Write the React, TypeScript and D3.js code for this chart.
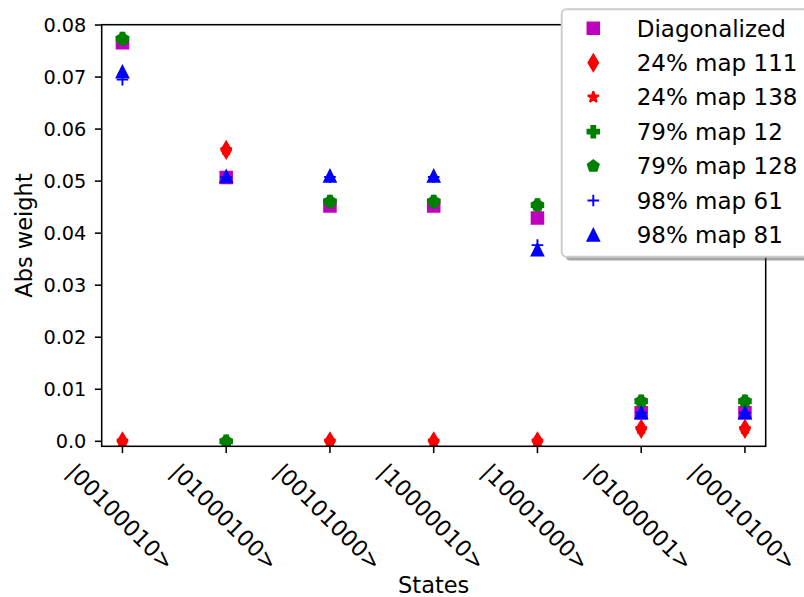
import React, { useEffect, useRef } from 'react';
import * as d3 from 'd3';

// Basis states on the x axis
const states = ['|00100010>', '|01000100>', '|00101000>', '|10000010>', '|10001000>', '|01000001>', '|00010100>'];

// Absolute weights per basis state for each series
const diagonalized = [0.0766, 0.0507, 0.0452, 0.0452, 0.0429, 0.0055, 0.0055];
const map111 = [0.0, 0.056, 0.0, 0.0, 0.0, 0.0024, 0.0024];
const map138 = [0.0, 0.056, 0.0, 0.0, 0.0, 0.0024, 0.0024];
const map12 = [0.0774, 0.0, 0.0461, 0.0461, 0.0454, 0.0077, 0.0077];
const map128 = [0.0774, 0.0, 0.0461, 0.0461, 0.0454, 0.0077, 0.0077];
const map61 = [0.0695, 0.0508, 0.0508, 0.0508, 0.0377, 0.0055, 0.0055];
const map81 = [0.071, 0.0509, 0.051, 0.051, 0.0368, 0.0055, 0.0055];

const seriesNames = ['Diagonalized', '24% map 111', '24% map 138', '79% map 12', '79% map 128', '98% map 61', '98% map 81'];

const yTicks = [0, 0.01, 0.02, 0.03, 0.04, 0.05, 0.06, 0.07, 0.08];
const yTickLabels = ['0.0', '0.01', '0.02', '0.03', '0.04', '0.05', '0.06', '0.07', '0.08'];

type MarkerKind = 'square' | 'thinDiamond' | 'star' | 'plusFilled' | 'pentagon' | 'plus' | 'triangle';

const series: { name: string; values: number[]; color: string; marker: MarkerKind }[] = [
  { name: seriesNames[0], values: diagonalized, color: '#bf00bf', marker: 'square' },
  { name: seriesNames[1], values: map111, color: '#ff0000', marker: 'thinDiamond' },
  { name: seriesNames[2], values: map138, color: '#ff0000', marker: 'star' },
  { name: seriesNames[3], values: map12, color: '#008000', marker: 'plusFilled' },
  { name: seriesNames[4], values: map128, color: '#008000', marker: 'pentagon' },
  { name: seriesNames[5], values: map61, color: '#0000ff', marker: 'plus' },
  { name: seriesNames[6], values: map81, color: '#0000ff', marker: 'triangle' },
];

const FONT = '"DejaVu Sans", sans-serif';
const MS = 11.6; // marker size in px
const MEW = 1.93; // marker edge width

function markerJoin(kind: MarkerKind): string {
  if (kind === 'star') return 'bevel';
  if (kind === 'plus') return 'round';
  return 'miter';
}

function markerPath(kind: MarkerKind, s: number): string {
  const h = s / 2;
  const poly = (pts: [number, number][]) => 'M' + pts.map((p) => `${p[0].toFixed(3)},${p[1].toFixed(3)}`).join('L') + 'Z';
  switch (kind) {
    case 'square':
      return poly([[-h, -h], [h, -h], [h, h], [-h, h]]);
    case 'thinDiamond': {
      const r = s * Math.SQRT1_2;
      return poly([[0, -r], [0.6 * r, 0], [0, r], [-0.6 * r, 0]]);
    }
    case 'star': {
      const pts: [number, number][] = [];
      for (let i = 0; i < 10; i++) {
        const r = i % 2 === 0 ? h : h * 0.381966;
        const a = -Math.PI / 2 + (i * Math.PI) / 5;
        pts.push([r * Math.cos(a), r * Math.sin(a)]);
      }
      return poly(pts);
    }
    case 'plusFilled': {
      const v: [number, number][] = [
        [-1, -3], [1, -3], [1, -1], [3, -1], [3, 1], [1, 1],
        [1, 3], [-1, 3], [-1, 1], [-3, 1], [-3, -1], [-1, -1],
      ];
      return poly(v.map((p) => [(p[0] / 6) * s, (p[1] / 6) * s] as [number, number]));
    }
    case 'pentagon': {
      const pts: [number, number][] = [];
      for (let i = 0; i < 5; i++) {
        const a = -Math.PI / 2 + (i * 2 * Math.PI) / 5;
        pts.push([h * Math.cos(a), h * Math.sin(a)]);
      }
      return poly(pts);
    }
    case 'plus':
      return `M${-h},0H${h}M0,${-h}V${h}`;
    case 'triangle':
      return poly([[0, -h], [-h, h], [h, h]]);
  }
}

export default function App() {
  const ref = useRef<SVGSVGElement>(null);

  useEffect(() => {
    const svg = d3.select(ref.current);
    svg.selectAll('*').remove();

    const left = 101.7;
    const right = 765.7;
    const top = 24.7;
    const bottom = 446.3;

    const x = d3.scaleLinear().domain([-0.2, states.length - 1 + 0.2]).range([left, right]);
    const y = d3.scaleLinear().domain([-0.00096, 0.08006]).range([bottom, top]);

    svg.append('rect').attr('width', 804).attr('height', 597).attr('fill', '#ffffff');

    svg.append('defs').append('clipPath').attr('id', 'plot-clip')
      .append('rect').attr('x', left).attr('y', top).attr('width', right - left).attr('height', bottom - top);

    // Data markers
    const plot = svg.append('g').attr('clip-path', 'url(#plot-clip)');
    series.forEach((s) => {
      const d = markerPath(s.marker, MS);
      plot.append('g').selectAll('path').data(s.values).enter().append('path')
        .attr('d', d)
        .attr('transform', (v, i) => `translate(${x(i)},${y(v)})`)
        .attr('fill', s.marker === 'plus' ? 'none' : s.color)
        .attr('stroke', s.color)
        .attr('stroke-width', MEW)
        .attr('stroke-linejoin', markerJoin(s.marker));
    });

    // Spines
    svg.append('rect').attr('x', left).attr('y', top).attr('width', right - left).attr('height', bottom - top)
      .attr('fill', 'none').attr('stroke', '#000').attr('stroke-width', 1.55);

    const tickLen = 6.8;
    const tickFs = 19.3;
    const xTickFs = 22.3;

    // Y axis ticks
    const yg = svg.append('g');
    yTicks.forEach((t, i) => {
      yg.append('line').attr('x1', left - tickLen).attr('x2', left).attr('y1', y(t)).attr('y2', y(t))
        .attr('stroke', '#000').attr('stroke-width', 1.55);
      yg.append('text').attr('x', left - tickLen - 8.5).attr('y', y(t)).attr('dy', '0.35em')
        .attr('text-anchor', 'end').attr('font-family', FONT).attr('font-size', tickFs).attr('fill', '#000')
        .text(yTickLabels[i]);
    });

    // X axis ticks with rotated labels
    const xg = svg.append('g');
    states.forEach((s, i) => {
      const cx = x(i);
      xg.append('line').attr('x1', cx).attr('x2', cx).attr('y1', bottom).attr('y2', bottom + tickLen)
        .attr('stroke', '#000').attr('stroke-width', 1.55);
      const t = xg.append('text').attr('font-family', FONT).attr('font-size', xTickFs).attr('fill', '#000')
        .attr('text-anchor', 'middle').text(s);
      const w = (t.node() as SVGTextElement).getComputedTextLength();
      const hgt = xTickFs * 1.164;
      const side = (w + hgt) * Math.SQRT1_2;
      const topY = bottom + tickLen + 5.5;
      const cy = topY + side / 2;
      t.attr('x', 0).attr('y', xTickFs * 0.346).attr('transform', `translate(${cx - 2},${cy}) rotate(45)`);
    });

    // Axis labels
    const labelFs = 22.5;
    svg.append('text').attr('x', (left + right) / 2).attr('y', 593).attr('text-anchor', 'middle')
      .attr('font-family', FONT).attr('font-size', labelFs).attr('fill', '#000').text('States');
    svg.append('text').attr('transform', `translate(32,${(top + bottom) / 2}) rotate(-90)`)
      .attr('text-anchor', 'middle').attr('font-family', FONT).attr('font-size', labelFs).attr('fill', '#000')
      .text('Abs weight');

    // Legend
    const legFs = 23;
    const lx = 561.7;
    const ly = 9.3;
    const lw = 280;
    const lh = 247.4;
    const lg = svg.append('g');
    lg.append('rect').attr('x', lx + 3.9).attr('y', ly + 3.9).attr('width', lw).attr('height', lh)
      .attr('rx', 4.6).attr('fill', '#4d4d4d').attr('fill-opacity', 0.5);
    lg.append('rect').attr('x', lx).attr('y', ly).attr('width', lw).attr('height', lh)
      .attr('rx', 4.6).attr('fill', '#ffffff').attr('stroke', '#cccccc').attr('stroke-width', 1.93);
    const rowY = d3.scaleLinear().domain([0, series.length - 1]).range([28.3, 235]);
    series.forEach((s, i) => {
      const cy = rowY(i);
      lg.append('path').attr('d', markerPath(s.marker, MS))
        .attr('transform', `translate(593.3,${cy})`)
        .attr('fill', s.marker === 'plus' ? 'none' : s.color)
        .attr('stroke', s.color).attr('stroke-width', MEW)
        .attr('stroke-linejoin', markerJoin(s.marker));
      lg.append('text').attr('x', 636.7).attr('y', cy).attr('dy', '0.36em')
        .attr('font-family', FONT).attr('font-size', legFs).attr('fill', '#000').text(s.name);
    });
  }, []);

  return (
    <svg
      ref={ref}
      width={804}
      height={597}
      style={{ position: 'absolute', left: 0, top: 0, display: 'block' }}
    />
  );
}
